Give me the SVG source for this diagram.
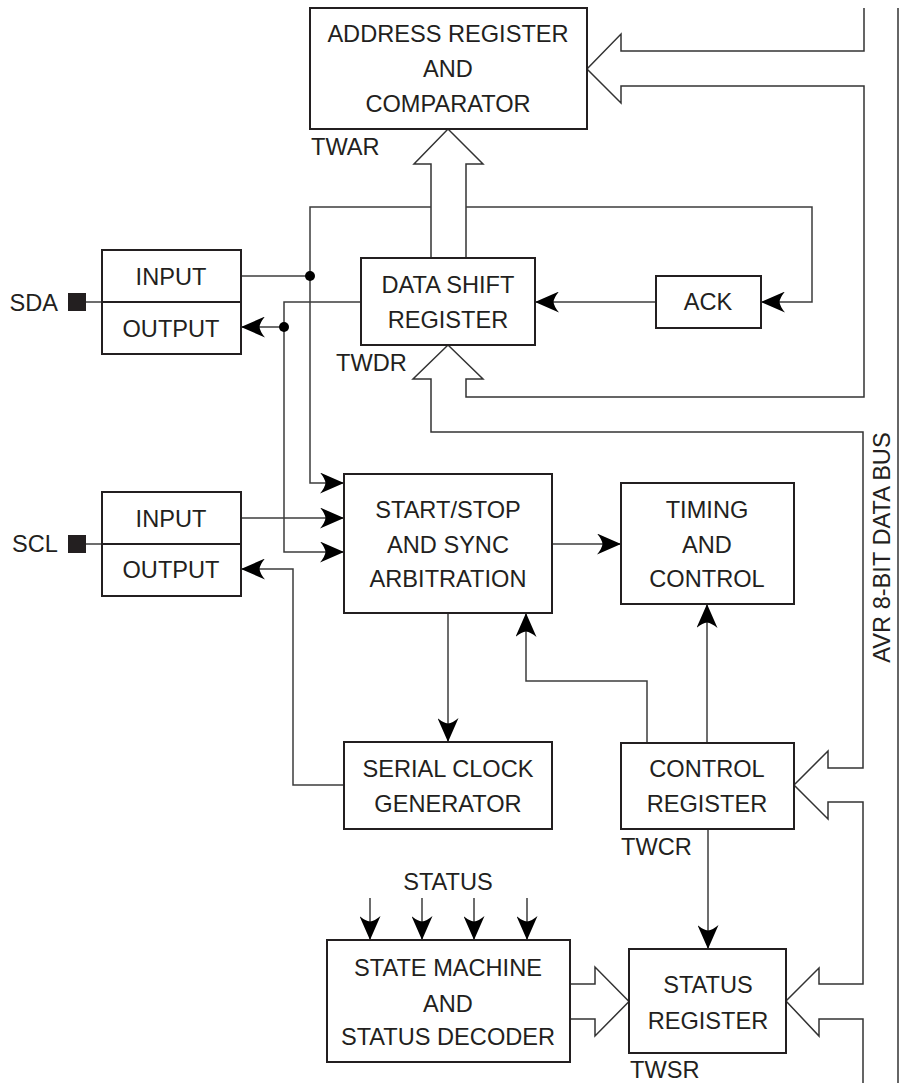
<svg xmlns="http://www.w3.org/2000/svg" width="900" height="1083" viewBox="0 0 900 1083">
<style>
.box{fill:#fff;stroke:#231f20;stroke-width:2}
.ln{fill:none;stroke:#3c3c3c;stroke-width:1.5}
.bus{fill:none;stroke:#333;stroke-width:1.5;stroke-linejoin:miter}
text{font-family:"Liberation Sans",Arial,sans-serif;font-size:23.6px;fill:#231f20}
.c{text-anchor:middle}
.dot{fill:#000}
</style>
<defs>
<marker id="ah" markerWidth="24" markerHeight="21" refX="24" refY="10.5" orient="auto" markerUnits="userSpaceOnUse" viewBox="0 0 24 21">
<path d="M24,10.5 L0,0 Q5,6 5.5,10.5 Q5,15 0,21 Z" fill="#000"/>
</marker>
</defs>
<rect width="900" height="1083" fill="#fff"/>

<g id="connectors">
<!-- data bus -->
<line class="bus" x1="898" y1="8" x2="898" y2="1083"/>
<path class="bus" d="M864,8 V51 H621 V34 L587,69 L621,103 V86 H864 V397 H466 V379 H483 L448,345 L413,379 H431 V432 H863 V768 H828 V751 L794,785 L828,819 V802 H863 V984 H819 V968 L786,1001 L819,1036 V1019 H863 V1083"/>
<!-- DSR to address register -->
<path class="bus" d="M431,258 V164 H414 L448,129 L483,164 H466 V258"/>
<!-- state machine to status register -->
<path class="bus" d="M570,984 H595 V967 L629,1001.5 L595,1036 V1019 H570"/>
<!-- SDA -->
<path class="ln" d="M86,302 H102"/>
<path class="ln" d="M241,276 H310"/>
<path class="ln" d="M431,207 H310 V483 H344" marker-end="url(#ah)"/>
<path class="ln" d="M466,207 H812 V302 H761" marker-end="url(#ah)"/>
<path class="ln" d="M656,302 H535" marker-end="url(#ah)"/>
<path class="ln" d="M361,302 H284 V552 H344" marker-end="url(#ah)"/>
<path class="ln" d="M284,327 H241" marker-end="url(#ah)"/>
<circle class="dot" cx="310" cy="276" r="5"/>
<circle class="dot" cx="284" cy="327" r="5"/>
<!-- SCL -->
<path class="ln" d="M86,544 H102"/>
<path class="ln" d="M241,518 H344" marker-end="url(#ah)"/>
<path class="ln" d="M344,785 H293 V569 H241" marker-end="url(#ah)"/>
<!-- start/stop -->
<path class="ln" d="M552,544 H621" marker-end="url(#ah)"/>
<path class="ln" d="M448,613 V742" marker-end="url(#ah)"/>
<path class="ln" d="M647,743 V681 H526 V613" marker-end="url(#ah)"/>
<path class="ln" d="M707,743 V604" marker-end="url(#ah)"/>
<path class="ln" d="M708,829 V949" marker-end="url(#ah)"/>
<!-- status inputs -->
<path class="ln" d="M370,898 V940" marker-end="url(#ah)"/>
<path class="ln" d="M422,898 V940" marker-end="url(#ah)"/>
<path class="ln" d="M474,898 V940" marker-end="url(#ah)"/>
<path class="ln" d="M527,898 V940" marker-end="url(#ah)"/>
</g>

<g id="address-register">
<rect class="box" x="310" y="8" width="277" height="121"/>
<text class="c" x="448" y="42">ADDRESS REGISTER</text>
<text class="c" x="448" y="77">AND</text>
<text class="c" x="448" y="112">COMPARATOR</text>
<text x="311" y="155">TWAR</text>
</g>

<g id="data-shift-register">
<rect class="box" x="361" y="258" width="174" height="87"/>
<text class="c" x="448" y="293">DATA SHIFT</text>
<text class="c" x="448" y="328">REGISTER</text>
<text x="336" y="371">TWDR</text>
</g>

<g id="ack">
<rect class="box" x="656" y="276" width="105" height="52"/>
<text class="c" x="708" y="310">ACK</text>
</g>

<g id="sda-io">
<text x="58" y="311" text-anchor="end">SDA</text>
<rect x="68" y="293" width="18" height="18" fill="#231f20"/>
<rect class="box" x="102" y="250" width="139" height="104"/>
<line class="box" x1="102" y1="302" x2="241" y2="302"/>
<text class="c" x="171" y="285">INPUT</text>
<text class="c" x="171" y="337">OUTPUT</text>
</g>

<g id="scl-io">
<text x="58" y="552" text-anchor="end">SCL</text>
<rect x="68" y="535" width="18" height="18" fill="#231f20"/>
<rect class="box" x="102" y="492" width="139" height="104"/>
<line class="box" x1="102" y1="544" x2="241" y2="544"/>
<text class="c" x="171" y="527">INPUT</text>
<text class="c" x="171" y="578">OUTPUT</text>
</g>

<g id="start-stop">
<rect class="box" x="344" y="474" width="208" height="139"/>
<text class="c" x="448" y="518">START/STOP</text>
<text class="c" x="448" y="553">AND SYNC</text>
<text class="c" x="448" y="587">ARBITRATION</text>
</g>

<g id="timing">
<rect class="box" x="621" y="483" width="173" height="121"/>
<text class="c" x="707" y="518">TIMING</text>
<text class="c" x="707" y="553">AND</text>
<text class="c" x="707" y="587">CONTROL</text>
</g>

<g id="serial-clock">
<rect class="box" x="344" y="742" width="208" height="87"/>
<text class="c" x="448" y="777">SERIAL CLOCK</text>
<text class="c" x="448" y="812">GENERATOR</text>
</g>

<g id="control-register">
<rect class="box" x="621" y="743" width="173" height="86"/>
<text class="c" x="707" y="777">CONTROL</text>
<text class="c" x="707" y="812">REGISTER</text>
<text x="621" y="855">TWCR</text>
</g>

<g id="state-machine">
<text class="c" x="448" y="890">STATUS</text>
<rect class="box" x="327" y="940" width="243" height="122"/>
<text class="c" x="448" y="976">STATE MACHINE</text>
<text class="c" x="448" y="1012">AND</text>
<text class="c" x="448" y="1045">STATUS DECODER</text>
</g>

<g id="status-register">
<rect class="box" x="629" y="949" width="157" height="104"/>
<text class="c" x="708" y="993">STATUS</text>
<text class="c" x="708" y="1029">REGISTER</text>
<text x="630" y="1078">TWSR</text>
</g>

<g id="bus-label">
<text class="c" x="890" y="547.5" transform="rotate(-90 890 547.5)">AVR 8-BIT DATA BUS</text>
</g>
</svg>
